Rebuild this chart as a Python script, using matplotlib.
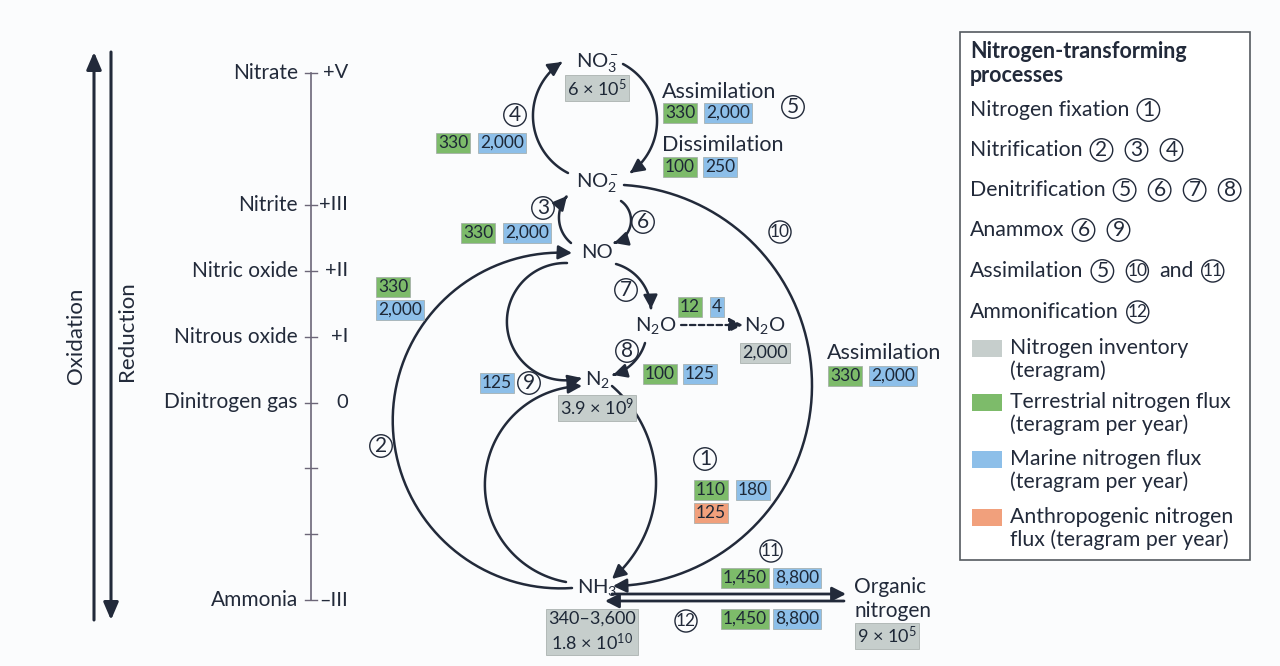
import numpy as np
import matplotlib
matplotlib.use("Agg")
import matplotlib.pyplot as plt
from matplotlib.patches import FancyArrowPatch, Rectangle
from matplotlib.path import Path

plt.rcParams['font.family'] = ['Lato', 'DejaVu Sans']
plt.rcParams['mathtext.fontset'] = 'custom'
plt.rcParams['mathtext.rm'] = 'Lato'
plt.rcParams['mathtext.it'] = 'Lato:italic'
plt.rcParams['mathtext.bf'] = 'Lato:bold'

# --- data -------------------------------------------------------------
species = ['Nitrate', 'Nitrite', 'Nitric oxide', 'Nitrous oxide', 'Dinitrogen gas', 'Ammonia']
ox_states = [5, 3, 2, 1, 0, -3]
ox_labels = ['+V', '+III', '+II', '+I', '0', '–III']
extra_ticks = [-1, -2]

nodes = ['NO3', 'NO2', 'NO', 'N2O', 'N2Oa', 'N2', 'NH3', 'ORG']
node_labels = [r'NO$_3^-$', r'NO$_2^-$', 'NO', r'N$_2$O', r'N$_2$O', r'N$_2$', r'NH$_3$',
               'Organic\nnitrogen']
inventory = ['6 × 10$^5$', None, None, None, '2,000', '3.9 × 10$^9$',
             '340–3,600\n1.8 × 10$^{10}$', '9 × 10$^5$']

flux_steps = ['4', '5a', '5b', '3', '2', '7', '8', '10', '9', '1', '11', '12']
terrestrial = ['330', '330', '100', '330', '330', '12', '100', '330', None, '110', '1,450', '1,450']
marine = ['2,000', '2,000', '250', '2,000', '2,000', '4', '125', '2,000', '125', '180', '8,800', '8,800']
anthropogenic = [None, None, None, None, None, None, None, None, None, '125', None, None]

processes = ['Nitrogen fixation', 'Nitrification', 'Denitrification', 'Anammox',
             'Assimilation', 'Ammonification']
process_steps = [[1], [2, 3, 4], [5, 6, 7, 8], [6, 9], [5, 10, 'and', 11], [12]]

legend_labels = ['Nitrogen inventory\n(teragram)', 'Terrestrial nitrogen flux\n(teragram per year)',
                 'Marine nitrogen flux\n(teragram per year)', 'Anthropogenic nitrogen\nflux (teragram per year)']

# --- style / layout ---------------------------------------------------
INK = '#222a3a'
GRAY = '#c6cecc'
GREEN = '#7dbb6a'
BLUE = '#8dbfe9'
ORANGE = '#f1a07c'
BG = '#fbfcfd'
legend_colors = [GRAY, GREEN, BLUE, ORANGE]
FS = 14.5

node_pos = {'NO3': (597, 62), 'NO2': (597, 183), 'NO': (597, 253), 'N2O': (656, 326),
            'N2Oa': (765, 326), 'N2': (597, 380), 'NH3': (597, 588), 'ORG': (891, 587)}
inv_pos = {'NO3': (597, 88), 'N2Oa': (765, 353), 'N2': (597, 408), 'NH3': (592, 632),
           'ORG': (887, 636)}
flux_pos = {'4': [(453, 143), (502, 143)], '5a': [(680, 113), (728, 113)],
            '5b': [(680, 167), (720, 167)], '3': [(478, 233), (527, 233)],
            '2': [(393, 287), (400, 310)], '7': [(690, 307), (717, 307)],
            '8': [(660, 374), (700, 374)], '10': [(845, 376), (893, 376)],
            '9': [None, (497, 383)], '1': [(711, 490), (753, 490), (711, 513)],
            '11': [(745, 578), (797, 578)], '12': [(745, 619), (797, 619)]}
step_pos = {1: (705, 459), 2: (381, 446), 3: (543, 208), 4: (515, 115), 5: (793, 107),
            6: (643, 222), 7: (626, 290), 8: (627, 351), 9: (529, 383), 10: (780, 232),
            11: (771, 551), 12: (686, 621)}
arcs = [((568, 173), (533, 118), (562, 62)),
        ((623, 64), (657, 118), (630, 173)),
        ((571, 243), (559, 219), (567, 196)),
        ((621, 201), (631, 221), (614, 243)),
        ((572, 588), (393, 430), (572, 253)),
        ((567, 263), (507, 325), (582, 378)),
        ((566, 582), (485, 480), (582, 386)),
        ((612, 386), (656, 480), (612, 579)),
        ((624, 185), (812, 385), (613, 586)),
        ((616, 264), (641, 281), (651, 309)),
        ((645, 343), (634, 362), (613, 375))]

fig = plt.figure(figsize=(12.8, 6.66), dpi=100)
fig.patch.set_facecolor(BG)
ax = fig.add_axes([0, 0, 1, 1])
ax.set_xlim(0, 1280)
ax.set_ylim(666, 0)
ax.axis('off')


def circle_arc(p0, pm, p1, n=80):
    (x1, y1), (x2, y2), (x3, y3) = p0, pm, p1
    d = 2 * (x1 * (y2 - y3) + x2 * (y3 - y1) + x3 * (y1 - y2))
    ux = ((x1**2 + y1**2) * (y2 - y3) + (x2**2 + y2**2) * (y3 - y1) + (x3**2 + y3**2) * (y1 - y2)) / d
    uy = ((x1**2 + y1**2) * (x3 - x2) + (x2**2 + y2**2) * (x1 - x3) + (x3**2 + y3**2) * (x2 - x1)) / d
    r = np.hypot(x1 - ux, y1 - uy)
    a0 = np.arctan2(y1 - uy, x1 - ux)
    am = np.arctan2(y2 - uy, x2 - ux)
    a1 = np.arctan2(y3 - uy, x3 - ux)
    tp = 2 * np.pi
    if (am - a0) % tp < (a1 - a0) % tp:
        end = a0 + (a1 - a0) % tp
    else:
        end = a0 - (a0 - a1) % tp
    t = np.linspace(a0, end, n)
    return np.column_stack([ux + r * np.cos(t), uy + r * np.sin(t)])


def arrow_path(pts, lw=1.8, ls='-'):
    ar = FancyArrowPatch(path=Path(pts), arrowstyle='-|>,head_length=0.55,head_width=0.28',
                         mutation_scale=15, lw=lw, color=INK, linestyle=ls)
    ax.add_patch(ar)


def circ_num(x, y, n):
    ax.text(x, y, str(n), ha='center', va='center', fontsize=15 if n < 10 else 12.5,
            color=INK, bbox=dict(boxstyle='circle,pad=0.06', fc='none', ec=INK, lw=1.0))


def value_box(x, y, s, fc, fs=12.5):
    ax.text(x, y, s, ha='center', va='center', fontsize=fs, color='#1d2736',
            linespacing=1.25,
            bbox=dict(boxstyle='square,pad=0.12', fc=fc, ec='#a0a8a6', lw=0.5))


# --- left: oxidation / reduction arrows ---
ax.add_patch(FancyArrowPatch((94, 620), (94, 52), arrowstyle='-|>,head_length=0.7,head_width=0.3',
                             mutation_scale=15, lw=2.2, color=INK, shrinkA=0, shrinkB=0))
ax.add_patch(FancyArrowPatch((111, 52), (111, 620), arrowstyle='-|>,head_length=0.7,head_width=0.3',
                             mutation_scale=15, lw=2.2, color=INK, shrinkA=0, shrinkB=0))
ax.text(76, 336, 'Oxidation', rotation=90, ha='center', va='center', fontsize=16, color=INK)
ax.text(127, 331, 'Reduction', rotation=90, ha='center', va='center', fontsize=16, color=INK)

# --- oxidation state scale ---
def state_y(s):
    return 73 + (5 - s) * 65.9

ax.plot([311, 311], [state_y(5), state_y(-3)], color='#6c6678', lw=1.2)
for name, s, lab in zip(species, ox_states, ox_labels):
    y = state_y(s)
    ax.plot([305, 317], [y, y], color='#6c6678', lw=1.0)
    ax.text(298, y, name, ha='right', va='center', fontsize=FS + 0.5, color=INK)
    ax.text(348, y, lab, ha='right', va='center', fontsize=FS, color=INK)
for s in extra_ticks:
    y = state_y(s)
    ax.plot([305, 317], [y, y], color='#6c6678', lw=1.0)

# --- nodes ---
for key, lab, inv in zip(nodes, node_labels, inventory):
    x, y = node_pos[key]
    if key == 'ORG':
        for i, line in enumerate(lab.split('\n')):
            ax.text(x - 1 + 3 * i, y + 24 * i, line, ha='center', va='center', fontsize=FS + 0.5,
                    color=INK)
    else:
        ax.text(x, y, lab, ha='center', va='center', fontsize=14.5, color=INK)
    if inv is not None:
        value_box(*inv_pos[key], inv, GRAY, fs=13)

# --- arrows ---
for p0, pm, p1 in arcs:
    arrow_path(circle_arc(p0, pm, p1))
arrow_path(np.array([[681, 325], [743, 325]]), lw=1.6, ls=(0, (2.5, 1.5)))
ax.add_patch(FancyArrowPatch((612, 594), (846, 594), arrowstyle='-|>,head_length=0.55,head_width=0.28',
                             mutation_scale=15, lw=2.0, color=INK, shrinkA=0, shrinkB=0))
ax.add_patch(FancyArrowPatch((844, 601), (605, 601), arrowstyle='-|>,head_length=0.55,head_width=0.28',
                             mutation_scale=15, lw=2.0, color=INK, shrinkA=0, shrinkB=0))

# --- process text labels ---
ax.text(662, 92, 'Assimilation', ha='left', va='center', fontsize=FS + 1, color=INK)
ax.text(662, 145, 'Dissimilation', ha='left', va='center', fontsize=FS + 1, color=INK)
ax.text(827, 353, 'Assimilation', ha='left', va='center', fontsize=FS + 1, color=INK)

# --- flux boxes ---
for step, tv, mv, av in zip(flux_steps, terrestrial, marine, anthropogenic):
    locs = flux_pos[step]
    for val, col, loc in zip([tv, mv, av], [GREEN, BLUE, ORANGE], locs + [None] * 3):
        if val is not None and loc is not None:
            value_box(loc[0], loc[1], val, col)

for n, (x, y) in step_pos.items():
    circ_num(x, y, n)

# --- legend panel ---
ax.add_patch(Rectangle((960, 32), 290, 528, fc='white', ec='#555a60', lw=1.2))
ax.text(970, 52, 'Nitrogen-transforming', ha='left', va='center', fontsize=15.5,
        fontweight='bold', color=INK)
ax.text(970, 75, 'processes', ha='left', va='center', fontsize=15.5, fontweight='bold', color=INK)

renderer = fig.canvas.get_renderer()
row_y = [110, 150, 190, 230, 271, 312]
for name, steps, y in zip(processes, process_steps, row_y):
    t = ax.text(970, y, name, ha='left', va='center', fontsize=FS + 0.8, color=INK)
    xe = t.get_window_extent(renderer).x1 + 19
    for s in steps:
        if s == 'and':
            t2 = ax.text(xe - 12, y, 'and', ha='left', va='center', fontsize=FS + 0.8, color=INK)
            xe = t2.get_window_extent(renderer).x1 + 19
            continue
        circ_num(xe, y, s)
        xe += 35 if s < 10 else 34

leg_y = [348, 402, 459, 517]
for lab, col, y in zip(legend_labels, legend_colors, leg_y):
    ax.add_patch(Rectangle((972, y - 8), 30, 17, fc=col, ec='none'))
    for i, line in enumerate(lab.split('\n')):
        ax.text(1010, y + 23 * i, line, ha='left', va='center', fontsize=FS + 0.8, color=INK)

fig.savefig('out.png', dpi=100, facecolor=BG)
